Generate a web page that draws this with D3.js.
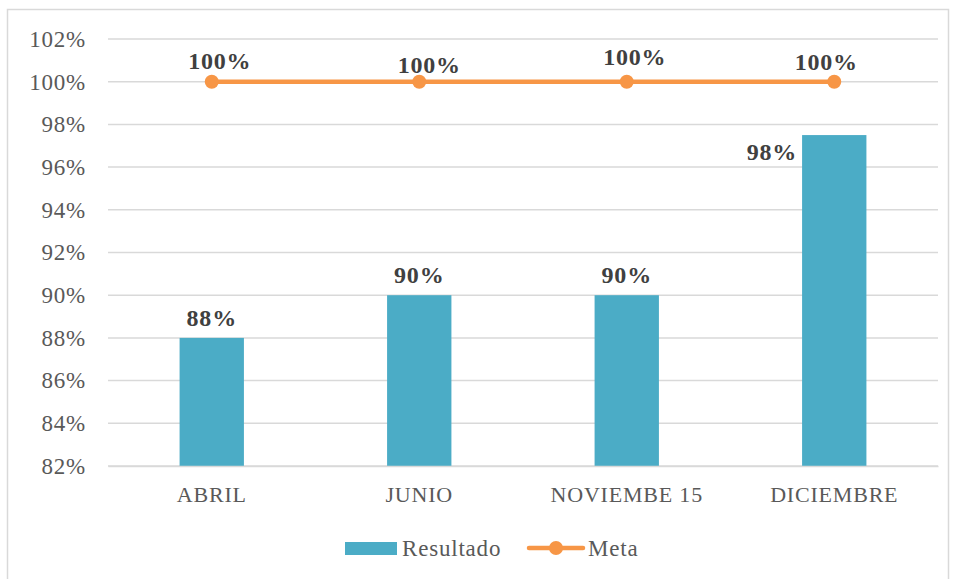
<html>
<head>
  <style>
    body { margin: 0; background: white; font-family: "Liberation Serif", serif; }
    .gridLine { stroke: #d9d9d9; stroke-width: 1.5; }
    text { letter-spacing: 0.8px; }
  </style>
</head>
<body>
  <svg id="chart"></svg>
  <script src="https://cdn.jsdelivr.net/npm/d3@7"></script>
  <script>
    // datos
    var categories = ["ABRIL", "JUNIO", "NOVIEMBE 15", "DICIEMBRE"];
    var resultado = [88, 90, 90, 97.5];
    var meta = [100, 100, 100, 100];
    var yTicks = [82, 84, 86, 88, 90, 92, 94, 96, 98, 100, 102];
    // desplazamientos de las etiquetas de la meta
    var metaLabelDx = [8, 10, 8, -8];
    var metaLabelDy = [-21, -17, -25, -20];

    var width = 955, height = 579;
    var pad = { top: 39, left: 108, right: 17, bottom: 113 };

    var svg = d3.select("#chart").attr("width", width).attr("height", height);

    // borde
    svg.append("rect")
      .attr("x", 7.5).attr("y", 9.5)
      .attr("width", 941).attr("height", 580)
      .attr("fill", "white").attr("stroke", "#d9d9d9").attr("stroke-width", 1.5);

    var x = d3.scaleBand()
      .domain(categories)
      .range([pad.left, width - pad.right])
      .paddingInner(0.69).paddingOuter(0.345);

    var y = d3.scaleLinear()
      .domain([82, 102])
      .range([height - pad.bottom, pad.top]);

    // lineas de cuadricula
    svg.append("g").selectAll("line")
      .data(yTicks)
      .join("line")
      .attr("class", "gridLine")
      .attr("x1", pad.left).attr("x2", width - pad.right)
      .attr("y1", d => y(d)).attr("y2", d => y(d));

    // eje Y
    var yAxis = d3.axisLeft(y).tickValues(yTicks).tickSize(0).tickPadding(22)
      .tickFormat(d => d + "%");
    var gy = svg.append("g")
      .attr("transform", "translate(" + pad.left + ",0)")
      .call(yAxis);
    gy.select(".domain").remove();
    gy.selectAll("text").attr("font-family", "Liberation Serif")
      .attr("font-size", 23).attr("fill", "#595959");

    // barras
    svg.append("g").selectAll("rect")
      .data(resultado)
      .join("rect")
      .attr("x", (d, i) => x(categories[i]))
      .attr("y", d => y(d))
      .attr("width", x.bandwidth())
      .attr("height", d => y(82) - y(d))
      .attr("fill", "#4BACC6");

    // eje X
    var xAxis = d3.axisBottom(x).tickSize(0).tickPadding(20);
    var gx = svg.append("g")
      .attr("transform", "translate(0," + y(82) + ")")
      .call(xAxis);
    gx.select(".domain").attr("stroke", "#d9d9d9").attr("stroke-width", 1.5);
    gx.selectAll("text").attr("font-family", "Liberation Serif")
      .attr("font-size", 22).attr("fill", "#595959");

    // etiquetas de barras
    svg.append("g").selectAll("text")
      .data(resultado)
      .join("text")
      .attr("x", (d, i) => i == 3 ? x(categories[i]) - 5 : x(categories[i]) + x.bandwidth() / 2)
      .attr("y", (d, i) => i == 3 ? y(d) + 25 : y(d) - 12)
      .attr("text-anchor", (d, i) => i == 3 ? "end" : "middle")
      .attr("font-size", 24).attr("font-weight", "bold").attr("fill", "#404040")
      .text(d => Math.round(d) + "%");

    // linea de meta
    var cx = (d, i) => x(categories[i]) + x.bandwidth() / 2;
    var line = d3.line().x(cx).y(d => y(d));
    svg.append("path")
      .datum(meta)
      .attr("d", line)
      .attr("fill", "none")
      .attr("stroke", "#F79646").attr("stroke-width", 4.5);
    svg.append("g").selectAll("circle")
      .data(meta)
      .join("circle")
      .attr("cx", cx).attr("cy", d => y(d))
      .attr("r", 7).attr("fill", "#F79646");

    svg.append("g").selectAll("text")
      .data(meta)
      .join("text")
      .attr("x", (d, i) => cx(d, i) + metaLabelDx[i])
      .attr("y", (d, i) => y(d) + metaLabelDy[i])
      .attr("dy", "0.35em")
      .attr("text-anchor", "middle")
      .attr("font-size", 24).attr("font-weight", "bold").attr("fill", "#404040")
      .text(d => d + "%");

    // leyenda
    var legend = svg.append("g").attr("transform", "translate(345,548)");
    legend.append("rect")
      .attr("x", 0).attr("y", -6).attr("width", 52).attr("height", 13)
      .attr("fill", "#4BACC6");
    legend.append("text")
      .attr("x", 57).attr("dy", "0.35em")
      .attr("font-size", 23).attr("fill", "#595959")
      .text("Resultado");
    legend.append("line")
      .attr("x1", 184).attr("x2", 238)
      .attr("stroke", "#F79646").attr("stroke-width", 4.5).attr("stroke-linecap", "round");
    legend.append("circle")
      .attr("cx", 211).attr("r", 7).attr("fill", "#F79646");
    legend.append("text")
      .attr("x", 243).attr("dy", "0.35em")
      .attr("font-size", 23).attr("fill", "#595959")
      .text("Meta");
  </script>
</body>
</html>
